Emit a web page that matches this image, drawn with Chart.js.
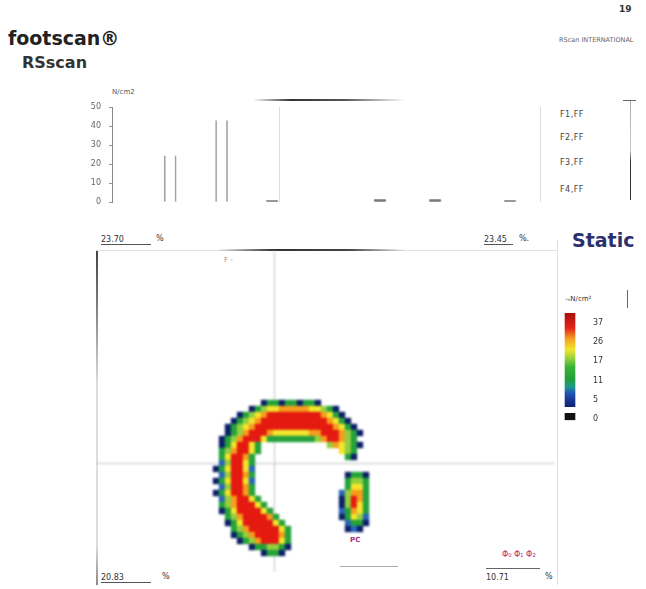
<!DOCTYPE html>
<html>
<head>
<meta charset="utf-8">
<title>footscan static</title>
<script src="https://cdn.jsdelivr.net/npm/chart.js@4.4.1/dist/chart.umd.min.js"></script>
<style>
html, body { margin: 0; padding: 0; background: #fff; }
body { width: 646px; height: 589px; position: relative; overflow: hidden; font-family: "DejaVu Sans", sans-serif; }
.t { position: absolute; white-space: nowrap; line-height: 1; }
.fld { display: inline-block; border-bottom: 1px solid #555; }
.ln { position: absolute; }
canvas { position: absolute; }
</style>
</head>
<body>

<!-- header -->
<div class="t" style="left:619px;top:5px;font-size:9px;font-weight:bold;color:#333">19</div>
<div class="t" style="left:559px;top:37px;font-size:6.5px;color:#666">RScan INTERNATIONAL</div>
<div class="t" style="left:8px;top:29px;font-size:19px;font-weight:bold;color:#222">footscan®</div>
<div class="t" style="left:22px;top:55px;font-size:16px;font-weight:bold;color:#333">RSscan</div>

<!-- force chart texts -->
<div class="t" style="left:112px;top:89px;font-size:7px;color:#555">N/cm2</div>
<div class="t" style="left:560px;top:111px;font-size:8px;color:#444;letter-spacing:0.5px">F1,FF</div>
<div class="t" style="left:560px;top:134px;font-size:8px;color:#444;letter-spacing:0.5px">F2,FF</div>
<div class="t" style="left:560px;top:159px;font-size:8px;color:#444;letter-spacing:0.5px">F3,FF</div>
<div class="t" style="left:560px;top:186px;font-size:8px;color:#444;letter-spacing:0.5px">F4,FF</div>
<div class="ln" style="left:253px;top:99px;width:152px;height:2px;background:linear-gradient(to right,rgba(60,60,60,0),#333 25%,#555 60%,rgba(90,90,90,0))"></div>
<div class="ln" style="left:630px;top:100px;width:1px;height:100px;background:linear-gradient(to bottom,#aaa,#ccc 50%,#333 62%,#333 98%)"></div>
<div class="ln" style="left:623px;top:100px;width:13px;height:1px;background:#666"></div>

<!-- percent fields -->
<div class="t" style="left:101px;top:236px;font-size:8px;color:#333"><span class="fld" style="width:50px">23.70</span></div>
<div class="t" style="left:156px;top:235px;font-size:8px;color:#333">%</div>
<div class="t" style="left:484px;top:236px;font-size:8px;color:#333"><span class="fld" style="width:29px">23.45</span></div>
<div class="t" style="left:519px;top:235px;font-size:8px;color:#333">%.</div>
<div class="t" style="left:572px;top:231px;font-size:19px;font-weight:bold;color:#2a3070">Static</div>
<div class="t" style="left:101px;top:574px;font-size:8px;color:#333"><span class="fld" style="width:50px">20.83</span></div>
<div class="t" style="left:162px;top:573px;font-size:8px;color:#333">%</div>
<div class="t" style="left:486px;top:574px;font-size:8px;color:#333">10.71</div>
<div class="t" style="left:545px;top:573px;font-size:8px;color:#333">%</div>

<!-- frame of the pressure view -->
<div class="ln" style="left:96px;top:250px;width:2px;height:335px;background:linear-gradient(to bottom,#444,#777 15%,#ddd 40%,#ddd 88%,#888)"></div>
<div class="ln" style="left:96px;top:250px;width:461px;height:1px;background:#e2e2e2"></div>
<div class="ln" style="left:217px;top:249px;width:188px;height:2px;background:linear-gradient(to right,rgba(60,60,60,0),#333 30%,#444 70%,rgba(90,90,90,0))"></div>
<div class="ln" style="left:557px;top:240px;width:1px;height:345px;background:#e0e0e0"></div>
<div class="ln" style="left:340px;top:566px;width:58px;height:1px;background:#aaa"></div>
<div class="ln" style="left:486px;top:568px;width:54px;height:1px;background:#666"></div>
<div class="t" style="left:224px;top:257px;font-size:7px;color:#999">F -</div>
<div class="t" style="left:350px;top:537px;font-size:7px;font-weight:bold;color:#b2287e">PC</div>
<div class="t" style="left:502px;top:551px;font-size:8px;color:#b2287e">Φ₀ Φ₁ Φ₂</div>

<!-- colour scale title -->
<div class="t" style="left:565px;top:296px;font-size:7px;color:#333">-ₙN/cm²</div>
<div class="ln" style="left:627px;top:290px;width:1px;height:18px;background:#666"></div>

<canvas id="force" width="490" height="125" style="left:60px;top:90px"></canvas>
<canvas id="heat" width="459" height="322" style="left:96px;top:250px"></canvas>
<canvas id="scale" width="75" height="130" style="left:545px;top:300px"></canvas>

<script>
// ---- data ----
var forceTicks = [0, 10, 20, 30, 40, 50];
var forcePos = [13.6, 25.6, 37.4, 62.6, 75.5, 93];   // % of stance
var forceVal = [24.5, 43, 1, 1.5, 1.5, 1];          // N/cm2

// pressure level per sensor cell, '.' = no load, 1..7 = colour class
var pressureRows = [
	"........1331331331.........",
	"......134556666655431......",
	"....134567777777776531.....",
	"...13456777777777776531....",
	"..1345677777777777776531...",
	"..13467776555555667776431..",
	".13467775333333334677643...",
	".1357753...........465431..",
	".3467753.............543...",
	".357763...............31...",
	".247753....................",
	"1357752....................",
	".247763...............1331.",
	"1357752...............3443.",
	".247763...............3553.",
	"1357763..............24663.",
	".2467753.............14763.",
	".34677753............14753.",
	".135777753...........23653.",
	"..346777763..........13542.",
	"..1357777753..........2331.",
	"...3467777753.........121..",
	"...1346777763..............",
	"....134677753..............",
	"......1334431..............",
	"........1331..............."
];

var scaleLabels = ['0', '5', '11', '17', '26', '37'];

// ---- styles ----
var levelColors = [null, '#0d1f68', '#2b65b9', '#25a23c', '#93d040', '#f2e52b', '#f69d1e', '#e41a10'];
var GRID_X0 = 20, GRID_Y0 = 25.5;   // first cell, in sensor units of the view

Chart.defaults.font.family = '"DejaVu Sans", sans-serif';
Chart.defaults.animation = false;
Chart.defaults.responsive = false;
Chart.defaults.events = [];
Chart.defaults.plugins.legend.display = false;
Chart.defaults.plugins.tooltip.enabled = false;

/* Force / time chart */
new Chart(document.getElementById('force'), {
	type: 'bar',
	data: {
		datasets: [{
			data: forcePos.map(function (x, i) { return { x: x, y: forceVal[i] }; }),
			backgroundColor: function (c) { return c.raw && c.raw.y < 5 ? '#777' : 'rgba(255,255,255,0)'; },
			borderColor: '#a0a0a0',
			borderWidth: { left: 1, right: 1, top: 0, bottom: 0 },
			borderSkipped: 'bottom',
			barThickness: 12
		}]
	},
	options: {
		layout: { padding: { top: 17, right: 10, bottom: 10, left: 0 } },
		scales: {
			x: {
				type: 'linear', min: 0, max: 100, offset: false,
				ticks: { display: false },
				grid: { drawTicks: false, color: '#dcdcdc', offset: false },
				border: { display: false },
				afterBuildTicks: function (s) { s.ticks = [{ value: 39.25 }, { value: 100 }]; }
			},
			y: {
				min: 0, max: 50,
				afterBuildTicks: function (s) { s.ticks = forceTicks.map(function (v) { return { value: v }; }); },
				afterFit: function (s) { s.width = 52; },
				ticks: { font: { size: 8 }, color: '#666', padding: 8 },
				grid: { drawOnChartArea: false, tickLength: 3, color: '#999' },
				border: { color: '#888' }
			}
		}
	}
});

/* Pressure view */
var cells = [];
pressureRows.forEach(function (row, r) {
	row.split('').forEach(function (ch, c) {
		if (ch !== '.') cells.push({ x: GRID_X0 + c, y: GRID_Y0 + r, v: +ch });
	});
});

function cellRadius(c) {
	var s = c.chart.scales.x;
	var px = Math.abs(s.getPixelForValue(1) - s.getPixelForValue(0));
	return px * 0.75;
}

// soften the finished picture like the scanned print
var softCells = {
	id: 'softCells',
	afterDatasetsDraw: function (chart) {
		var cv = chart.canvas, ctx = chart.ctx;
		var tmp = document.createElement('canvas');
		tmp.width = cv.width; tmp.height = cv.height;
		tmp.getContext('2d').drawImage(cv, 0, 0);
		ctx.save();
		ctx.setTransform(1, 0, 0, 1, 0, 0);
		ctx.clearRect(0, 0, cv.width, cv.height);
		ctx.filter = 'blur(1.3px)';
		ctx.drawImage(tmp, 0, 0);
		ctx.restore();
	}
};

new Chart(document.getElementById('heat'), {
	type: 'scatter',
	data: {
		datasets: [{
			data: cells,
			pointStyle: 'rect',
			pointRadius: cellRadius,
			pointHoverRadius: cellRadius,
			pointBorderWidth: 0,
			pointBackgroundColor: function (c) { return levelColors[c.raw.v]; }
		}]
	},
	options: {
		layout: { padding: 0 },
		scales: {
			x: {
				type: 'linear', min: 0, max: 76.5,
				ticks: { display: false },
				grid: { drawTicks: false, color: '#c4c4c4' },
				border: { display: false },
				afterBuildTicks: function (s) { s.ticks = [{ value: 29.8 }]; }
			},
			y: {
				type: 'linear', min: 0, max: 322 / 6, reverse: true,
				ticks: { display: false },
				grid: { drawTicks: false, color: '#c4c4c4' },
				border: { display: false },
				afterBuildTicks: function (s) { s.ticks = [{ value: 35.5 }]; }
			}
		}
	},
	plugins: [softCells]
});

/* Colour scale */
function scaleGradient(c) {
	var a = c.chart.chartArea;
	if (!a) return '#ccc';
	var g = c.chart.ctx.createLinearGradient(0, a.bottom, 0, a.top);
	g.addColorStop(0, '#111');
	g.addColorStop(0.07, '#111');
	g.addColorStop(0.071, '#fff');
	g.addColorStop(0.12, '#fff');
	g.addColorStop(0.121, '#0f1f70');
	g.addColorStop(0.2, '#1a3a95');
	g.addColorStop(0.26, '#1f5cb8');
	g.addColorStop(0.31, '#1b9a8a');
	g.addColorStop(0.38, '#1f9f3a');
	g.addColorStop(0.5, '#3cb43a');
	g.addColorStop(0.58, '#9dd23c');
	g.addColorStop(0.66, '#f0e52c');
	g.addColorStop(0.76, '#f4a020');
	g.addColorStop(0.86, '#e3231a');
	g.addColorStop(1, '#a8100c');
	return g;
}

new Chart(document.getElementById('scale'), {
	type: 'bar',
	data: {
		labels: ['p'],
		datasets: [{ data: [[-0.05, 5.5]], backgroundColor: scaleGradient, barThickness: 10, borderWidth: 0 }]
	},
	options: {
		layout: { padding: { top: 13, bottom: 7, left: 15, right: 0 } },
		scales: {
			x: { display: false },
			y: {
				position: 'right', min: -0.05, max: 5.5,
				afterBuildTicks: function (s) { s.ticks = scaleLabels.map(function (l, i) { return { value: i }; }); },
				afterFit: function (s) { s.width = 40; },
				ticks: { font: { size: 8 }, color: '#333', padding: 5, callback: function (v) { return scaleLabels[v]; } },
				grid: { display: false },
				border: { display: false }
			}
		}
	}
});
</script>
</body>
</html>
